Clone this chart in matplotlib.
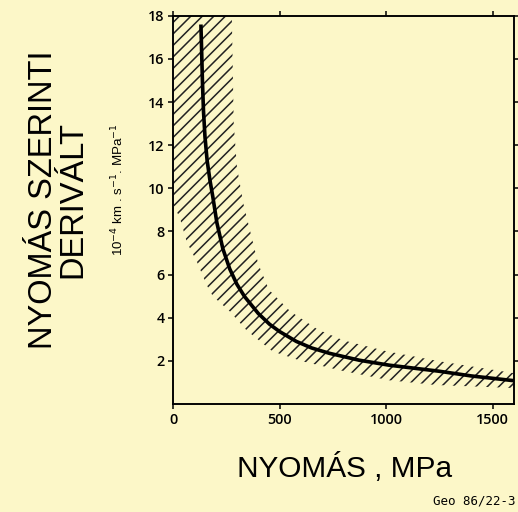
import numpy as np
import matplotlib
matplotlib.use('Agg')
import matplotlib.pyplot as plt

# pressure (MPa) and derivative (1e-4 km s^-1 MPa^-1)
pressure = [131, 134, 138, 143, 150, 160, 173, 187, 206, 234, 266, 300, 336, 400,
            453, 500, 579, 650, 734, 874, 1014, 1248, 1400, 1600]
deriv = [17.6, 16.5, 15.0, 13.6, 12.4, 11.3, 10.4, 9.6, 8.4, 7.2, 6.27, 5.55, 4.98, 4.2,
         3.7, 3.36, 2.9, 2.6, 2.35, 2.03, 1.8, 1.52, 1.3, 1.08]

# scatter band (hatched)
band_up_p = [0, 276, 285, 300, 330, 360, 400, 450, 550, 680, 800, 1000, 1250, 1600]
band_up_v = [18, 18, 13, 11, 9.3, 8.1, 6.5, 5.3, 4.3, 3.45, 2.95, 2.45, 1.98, 1.43]
band_lo_p = [0, 33, 65, 112, 159, 187, 266, 346, 467, 607, 790, 1014, 1234, 1600]
band_lo_v = [9.3, 8.6, 7.5, 6.6, 5.5, 5.0, 4.3, 3.41, 2.44, 1.98, 1.55, 1.1, 0.88, 0.74]

xticks = [0, 500, 1000, 1500]
yticks = [2, 4, 6, 8, 10, 12, 14, 16, 18]

bg = '#fcf7c8'
dpi = 138
plt.rcParams['hatch.linewidth'] = 0.8
fig = plt.figure(figsize=(518 / dpi, 512 / dpi), dpi=dpi, facecolor=bg)
ax = fig.add_axes([0.334, 0.211, 0.658, 0.758], facecolor=bg)

poly_x = np.r_[band_up_p, band_lo_p[::-1]]
poly_y = np.r_[band_up_v, band_lo_v[::-1]]
ax.fill(poly_x, poly_y, fill=False, hatch='////', linewidth=0, edgecolor='#222222')
ax.plot(pressure, deriv, color='black', lw=1.9, solid_capstyle='butt')

ax.set_xlim(0, 1600)
ax.set_ylim(0, 18)
ax.set_xticks(xticks)
ax.set_yticks(yticks)
for s in ax.spines.values():
    s.set_linewidth(1.0)
ax.tick_params(direction='out', length=2.5, width=0.8, labelsize=7.5, pad=2)
ax.tick_params(axis='y', right=True, which='both')
ax.tick_params(axis='x', top=True)
for t in ax.get_xticklabels() + ax.get_yticklabels():
    t.set_family('Open Sans')
    t.set_weight('semibold')

fig.text(0.112, 0.61, 'NYOMÁS SZERINTI\nDERIVÁLT', rotation=90, ha='center', va='center',
         fontsize=17, family='Liberation Sans', linespacing=0.95)
fig.text(0.228, 0.63, r'10$^{-4}$ km . s$^{-1}$. MPa$^{-1}$', rotation=90, ha='center',
         va='center', fontsize=7, family='Liberation Sans')
fig.text(0.665, 0.085, 'NYOMÁS , MPa', ha='center', va='center', fontsize=15.5,
         family='Liberation Sans')
fig.text(0.995, 0.022, 'Geo 86/22-3', ha='right', va='center', fontsize=6.5,
         family='DejaVu Sans Mono')

fig.savefig('out.png', dpi=dpi, facecolor=bg)
